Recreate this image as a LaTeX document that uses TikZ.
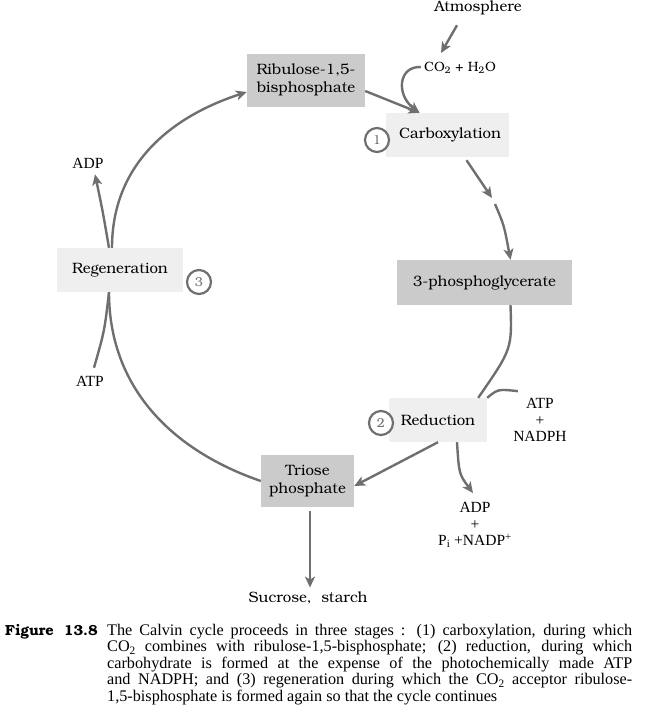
\documentclass[tikz,border=0pt]{standalone}
\usepackage{fontspec}
\setmainfont{texgyrebonum}[Extension=.otf, UprightFont=*-regular, BoldFont=*-bold]
\newfontfamily\labfont{Liberation Serif}
\usetikzlibrary{arrows.meta}

\definecolor{cycgray}{HTML}{6F6F6F}
\definecolor{darkfill}{HTML}{CBCBCB}
\definecolor{lightfill}{HTML}{EFEFEF}

\begin{document}
\begin{tikzpicture}[x=1pt, y=-1pt,
    darkbox/.style={fill=darkfill, align=center, inner sep=0pt, font=\fontsize{15}{17.5}\selectfont},
    lightbox/.style={fill=lightfill, align=center, inner sep=0pt, font=\fontsize{15}{17.5}\selectfont},
    stagenum/.style={circle, draw=cycgray, line width=2.2pt, fill=white, minimum size=24pt, inner sep=0pt, text=cycgray, font=\fontsize{13}{13}\selectfont},
    lab/.style={align=center, inner sep=1pt, font=\labfont\fontsize{15.5}{16.5}\selectfont},
    txt/.style={align=center, inner sep=1pt, font=\fontsize{15}{17}\selectfont},
    flow/.style={draw=cycgray, line width=2.4pt, -{Stealth[length=11pt, width=10pt, inset=3pt]}},
    link/.style={draw=cycgray, line width=2.4pt}]
    \useasboundingbox (0,0) rectangle (647,715);

    % Define nodes
    \node[txt] (atm) at (478,8) {Atmosphere};
    \node[txt, font=\fontsize{13.5}{16}\selectfont] (co2) at (460,68) {CO\textsubscript{2} + H\textsubscript{2}O};
    \node[darkbox, minimum width=118pt, minimum height=53pt] (rubp) at (306,80) {Ribulose-1,5-\\bisphosphate};
    \node[lightbox, minimum width=123pt, minimum height=44pt] (carb) at (447.5,135) {\hspace*{5pt}Carboxylation};
    \node[stagenum] (c1) at (377,140) {1};
    \node[darkbox, minimum width=175pt, minimum height=45pt] (pga) at (484.5,282.5) {3-phosphoglycerate};
    \node[lightbox, minimum width=98pt, minimum height=44pt] (red) at (438,420) {Reduction};
    \node[stagenum] (c2) at (381,423) {2};
    \node[lab] (atpn) at (540,420) {ATP\\+\\NADPH};
    \node[lab] (adpn) at (475,525) {ADP\\+\\P\textsubscript{i} +NADP\textsuperscript{+}};
    \node[darkbox, minimum width=93pt, minimum height=52pt] (triose) at (307.5,481) {Triose\\phosphate};
    \node[txt] (sucr) at (308,598) {Sucrose,\ \ starch};
    \node[lightbox, minimum width=126pt, minimum height=44pt] (regen) at (120,270) {Regeneration};
    \node[stagenum] (c3) at (199,282) {3};
    \node[lab] (adpl) at (88,163) {ADP};
    \node[lab] (atpl) at (90,381) {ATP};
    \coordinate (gapa) at (492,198);
    \coordinate (gapb) at (495,204);

    % Define connections
    \draw[flow] ([shift={(-21,9)}]atm.south) -- ([shift={(-19,-8)}]co2.north);
    \draw[flow] ([shift={(-2,-1)}]co2.west) .. controls (398,66) and (396,95) .. ([shift={(-28,0)}]carb.north);
    \draw[flow] ([shift={(0,11)}]rubp.east) -- ([shift={(-28,0)}]carb.north);
    \draw[flow] ([shift={(19,3)}]carb.south) -- (gapa);
    \draw[flow] (gapb) .. controls (504,225) .. ([shift={(26,0)}]pga.north);
    \draw[link] ([shift={(26,0)}]pga.south) .. controls (512,349) .. ([shift={(-9,0)}]red.north east);
    \draw[link] ([shift={(-22,-6)}]atpn.north) .. controls (498,389) .. (red.north east);
    \draw[flow] (red.south) .. controls (404,460) .. ([shift={(0,5)}]triose.east);
    \draw[flow] ([shift={(19,0)}]red.south) .. controls (459,474) .. ([shift={(-2,-8)}]adpn.north);
    \draw[flow] ([shift={(2.5,4)}]triose.south) -- ([shift={(2,-3)}]sucr.north);
    \draw[link] (triose.west) .. controls (171,450) and (109,387) .. ([shift={(-11,0)}]regen.south);
    \draw[flow] ([shift={(-8,0)}]regen.north) .. controls (112,165) and (170,117) .. ([shift={(0,12)}]rubp.west);
    \draw[flow] ([shift={(-11,0)}]regen.north) .. controls (102.5,210) .. ([shift={(7,5)}]adpl.south);
    \draw[link] ([shift={(4,-7)}]atpl.north) .. controls (104.5,331) .. ([shift={(-11,0)}]regen.south);

    % Caption
    \node[anchor=north west, text width=627pt, align=justify, inner sep=0pt, font=\labfont\fontsize{16.2}{16.4}\selectfont] (caption) at (5,624)
    {\hangindent=102pt\hangafter=1\makebox[102pt][l]{\fontspec{texgyrebonum}[Extension=.otf, BoldFont=*-bold, UprightFont=*-regular]\fontsize{14.6}{16.4}\selectfont\bfseries Figure\ \ 13.8}The Calvin cycle proceeds in three stages : (1) carboxylation, during which\linebreak
    CO\textsubscript{2} combines with ribulose-1,5-bisphosphate; (2) reduction, during which\linebreak
    carbohydrate is formed at the expense of the photochemically made ATP\linebreak
    and NADPH; and (3) regeneration during which the CO\textsubscript{2} acceptor ribulose-\linebreak
    1,5-bisphosphate is formed again so that the cycle continues\par};
\end{tikzpicture}
\end{document}
